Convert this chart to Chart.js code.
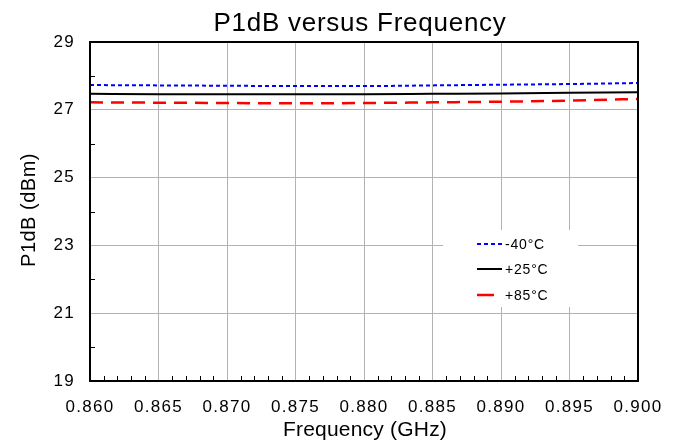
<!DOCTYPE html>
<html>
<head>
<meta charset="utf-8">
<script src="https://cdn.jsdelivr.net/npm/chart.js@4"></script>
<style>
  html, body { margin: 0; padding: 0; background: #fff; }
  #wrap { width: 678px; height: 446px; }
</style>
</head>
<body>
<div id="wrap"><canvas id="chart"></canvas></div>
<script>
// Data
const freqGHz = [0.860, 0.865, 0.870, 0.875, 0.880, 0.885, 0.890, 0.895, 0.900];
const p1dbMinus40 = [27.73, 27.72, 27.71, 27.70, 27.70, 27.72, 27.74, 27.76, 27.79];
const p1dbPlus25 = [27.47, 27.46, 27.46, 27.46, 27.46, 27.47, 27.48, 27.50, 27.52];
const p1dbPlus85 = [27.22, 27.21, 27.20, 27.19, 27.20, 27.22, 27.24, 27.27, 27.32];
const seriesNames = ['-40°C', '+25°C', '+85°C'];
const chartTitle = 'P1dB versus Frequency';
const xTitle = 'Frequency (GHz)';
const yTitle = 'P1dB (dBm)';

const fontFamily = '"Liberation Sans", Arial, sans-serif';
const gridColor = '#b3b3b3';

function toPoints(values) {
    return freqGHz.map(function (f, i) { return { x: f, y: values[i] }; });
}

// the original text is a bit spread out, so tick labels get some letter spacing
const spacingPlugin = {
    id: 'spacing',
    beforeDraw: function (chart) {
        chart.ctx.letterSpacing = '1.3px';
    }
};

// Titles, frame, minor ticks and the legend box
const decorPlugin = {
    id: 'decor',
    afterDatasetsDraw: function (chart) {
        const ctx = chart.ctx;
        const area = chart.chartArea;
        const xs = chart.scales.x;
        const ys = chart.scales.y;
        ctx.save();

        // minor ticks on x (every 0.001) pointing inward
        ctx.strokeStyle = '#000';
        ctx.lineWidth = 1;
        for (let k = 1; k < 40; k++) {
            if (k % 5 === 0) continue;
            const px = Math.round(xs.getPixelForValue(0.860 + k * 0.001)) + 0.5;
            ctx.beginPath();
            ctx.moveTo(px, area.bottom);
            ctx.lineTo(px, area.bottom - 5);
            ctx.stroke();
        }
        // minor ticks on y (even values)
        for (let v = 20; v < 29; v += 2) {
            const py = Math.round(ys.getPixelForValue(v)) + 0.5;
            ctx.beginPath();
            ctx.moveTo(area.left, py);
            ctx.lineTo(area.left + 5, py);
            ctx.stroke();
        }

        // frame
        ctx.lineWidth = 2;
        ctx.strokeRect(area.left, area.top, area.right - area.left, area.bottom - area.top);

        // legend box
        const lx = 443, ly = 230, lw = 135, lh = 77;
        ctx.fillStyle = '#fff';
        ctx.fillRect(lx, ly, lw, lh);
        const rows = [244, 269, 295];
        const sampleLen = [25, 25, 17];
        const sampleDash = [[4, 3], [], [17, 8]];
        chart.data.datasets.forEach(function (ds, i) {
            ctx.strokeStyle = ds.borderColor;
            ctx.lineWidth = ds.borderWidth;
            ctx.setLineDash(sampleDash[i]);
            ctx.beginPath();
            ctx.moveTo(477, rows[i]);
            ctx.lineTo(477 + sampleLen[i], rows[i]);
            ctx.stroke();
            ctx.setLineDash([]);
            ctx.fillStyle = '#000';
            ctx.font = '14px ' + fontFamily;
            ctx.letterSpacing = '0.8px';
            ctx.textAlign = 'left';
            ctx.textBaseline = 'middle';
            ctx.fillText(ds.label, 505, rows[i] + 1);
        });

        ctx.fillStyle = '#000';
        ctx.textAlign = 'center';
        ctx.textBaseline = 'alphabetic';

        // chart title
        ctx.font = '26px ' + fontFamily;
        ctx.letterSpacing = '0.75px';
        ctx.fillText(chartTitle, 360, 31);

        // x axis title
        ctx.font = '21px ' + fontFamily;
        ctx.letterSpacing = '0.2px';
        ctx.fillText(xTitle, 365, 436);

        // y axis title
        ctx.font = '20px ' + fontFamily;
        ctx.letterSpacing = '0.5px';
        ctx.translate(35, 210);
        ctx.rotate(-Math.PI / 2);
        ctx.fillText(yTitle, 0, 0);
        ctx.restore();
    }
};

new Chart(document.getElementById('chart'), {
    type: 'line',
    data: {
        datasets: [
            {
                label: seriesNames[0],
                data: toPoints(p1dbMinus40),
                borderColor: '#0000ff',
                borderWidth: 2,
                borderDash: [4, 3],
                pointRadius: 0,
                cubicInterpolationMode: 'monotone'
            },
            {
                label: seriesNames[1],
                data: toPoints(p1dbPlus25),
                borderColor: '#000000',
                borderWidth: 2,
                pointRadius: 0,
                cubicInterpolationMode: 'monotone'
            },
            {
                label: seriesNames[2],
                data: toPoints(p1dbPlus85),
                borderColor: '#ff0000',
                borderWidth: 2.5,
                borderDash: [13, 8],
                pointRadius: 0,
                cubicInterpolationMode: 'monotone'
            }
        ]
    },
    options: {
        responsive: true,
        maintainAspectRatio: false,
        animation: false,
        layout: { padding: { top: 42, right: 40, left: 0, bottom: 0 } },
        plugins: {
            legend: { display: false },
            title: { display: false },
            tooltip: { enabled: false }
        },
        scales: {
            x: {
                type: 'linear',
                min: 0.860,
                max: 0.900,
                afterFit: function (scale) { scale.height = 65; },
                ticks: {
                    stepSize: 0.005,
                    color: '#000',
                    font: { family: fontFamily, size: 17 },
                    padding: 16,
                    maxRotation: 0,
                    autoSkip: false,
                    callback: function (value) { return Number(value).toFixed(3); }
                },
                grid: { color: gridColor, drawTicks: false },
                border: { display: false }
            },
            y: {
                min: 19,
                max: 29,
                afterFit: function (scale) { scale.width = 90; },
                ticks: {
                    stepSize: 2,
                    color: '#000',
                    font: { family: fontFamily, size: 17 },
                    padding: 15
                },
                grid: { color: gridColor, drawTicks: false },
                border: { display: false }
            }
        }
    },
    plugins: [spacingPlugin, decorPlugin]
});
</script>
</body>
</html>
